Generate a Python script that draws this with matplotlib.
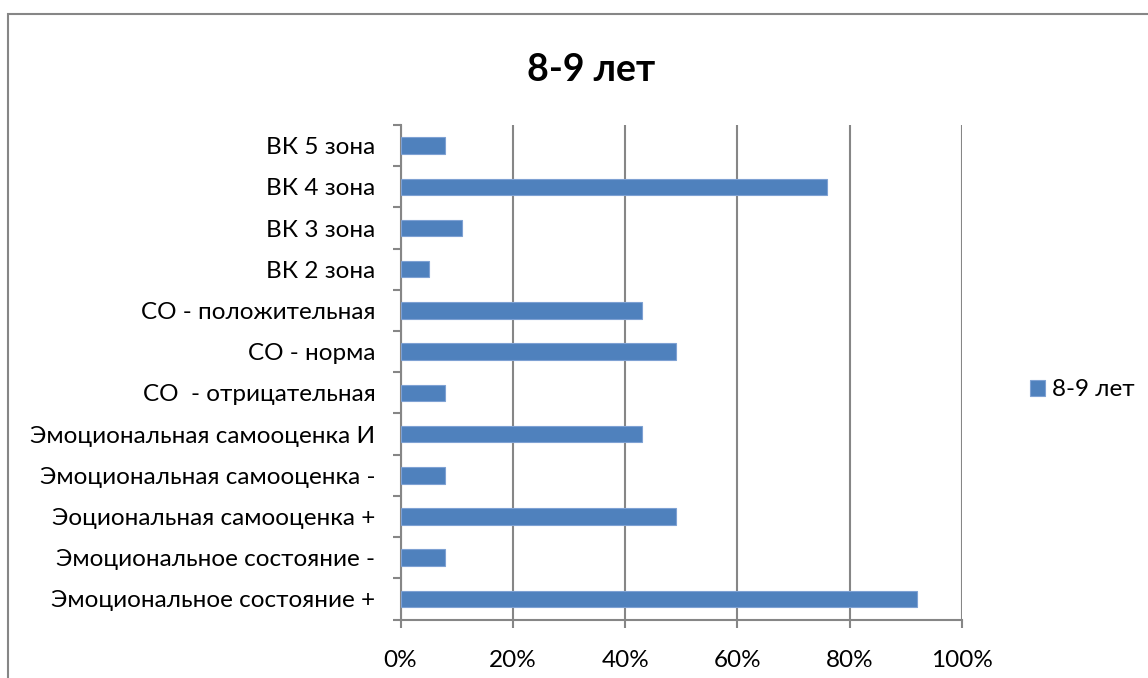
import matplotlib
matplotlib.use("Agg")
import matplotlib.pyplot as plt
from matplotlib.patches import Rectangle

categories = [
    "Эмоциональное состояние +",
    "Эмоциональное состояние -",
    "Эоциональная самооценка +",
    "Эмоциональная самооценка -",
    "Эмоциональная самооценка И",
    "СО  - отрицательная",
    "СО - норма",
    "СО - положительная",
    "ВК 2 зона",
    "ВК 3 зона",
    "ВК 4 зона",
    "ВК 5 зона",
]
values = [92, 8, 49, 8, 43, 8, 49, 43, 5, 11, 76, 8]
xticks = [0, 20, 40, 60, 80, 100]
xtick_labels = ["0%", "20%", "40%", "60%", "80%", "100%"]
series_name = "8-9 лет"
title = "8-9 лет"

plt.rcParams['font.family'] = ['Lato', 'DejaVu Sans']

W, H = 1148, 678
fig = plt.figure(figsize=(W / 100, H / 100), dpi=100)
fig.patch.set_facecolor("white")

# outer chart border
fig.add_artist(Rectangle((8 / W, -0.1), 1.2, 1 - 14 / H + 0.1, transform=fig.transFigure,
                         fill=False, edgecolor="#868686", linewidth=1.5))

left, right, top, bottom = 400.5, 962, 125, 619.5
ax = fig.add_axes([left / W, 1 - bottom / H, (right - left) / W, (bottom - top) / H])

bar_color = "#4F81BD"
ypos = list(range(len(categories)))
ax.barh(ypos, values, height=0.4, color=bar_color, edgecolor="#7EA1D3", linewidth=0.8,
        label=series_name, zorder=3)

ax.set_xlim(0, 100)
ax.set_ylim(-0.5, len(categories) - 0.5)
ax.set_xticks(xticks)
ax.set_xticklabels(xtick_labels, fontsize=17.5)
ax.set_yticks(ypos)
ax.set_yticklabels(categories, fontsize=17.5)
ax.tick_params(axis='y', length=0, pad=18)
ax.set_yticks([i - 0.5 for i in range(len(categories) + 1)], minor=True)
ax.tick_params(axis='y', which='minor', length=6, color="#868686", width=1.5)
ax.tick_params(axis='x', length=6, color="#868686", width=1.5, pad=16)

ax.grid(axis='x', color="#868686", linewidth=1.5, zorder=0)
for s in ["top", "right"]:
    ax.spines[s].set_visible(False)
for s in ["left", "bottom"]:
    ax.spines[s].set_color("#868686")
    ax.spines[s].set_linewidth(1.5)

fig.text(591 / W, 1 - 70 / H, title, ha="center", va="center", fontsize=27, fontweight="bold")

leg = fig.legend(loc="center left", bbox_to_anchor=(1030 / W, 1 - 390 / H), frameon=False,
                 fontsize=17.5, handlelength=0.6, handleheight=0.6, handletextpad=0.3,
                 borderpad=0, borderaxespad=0)

fig.savefig("out.png", dpi=100, facecolor="white")
